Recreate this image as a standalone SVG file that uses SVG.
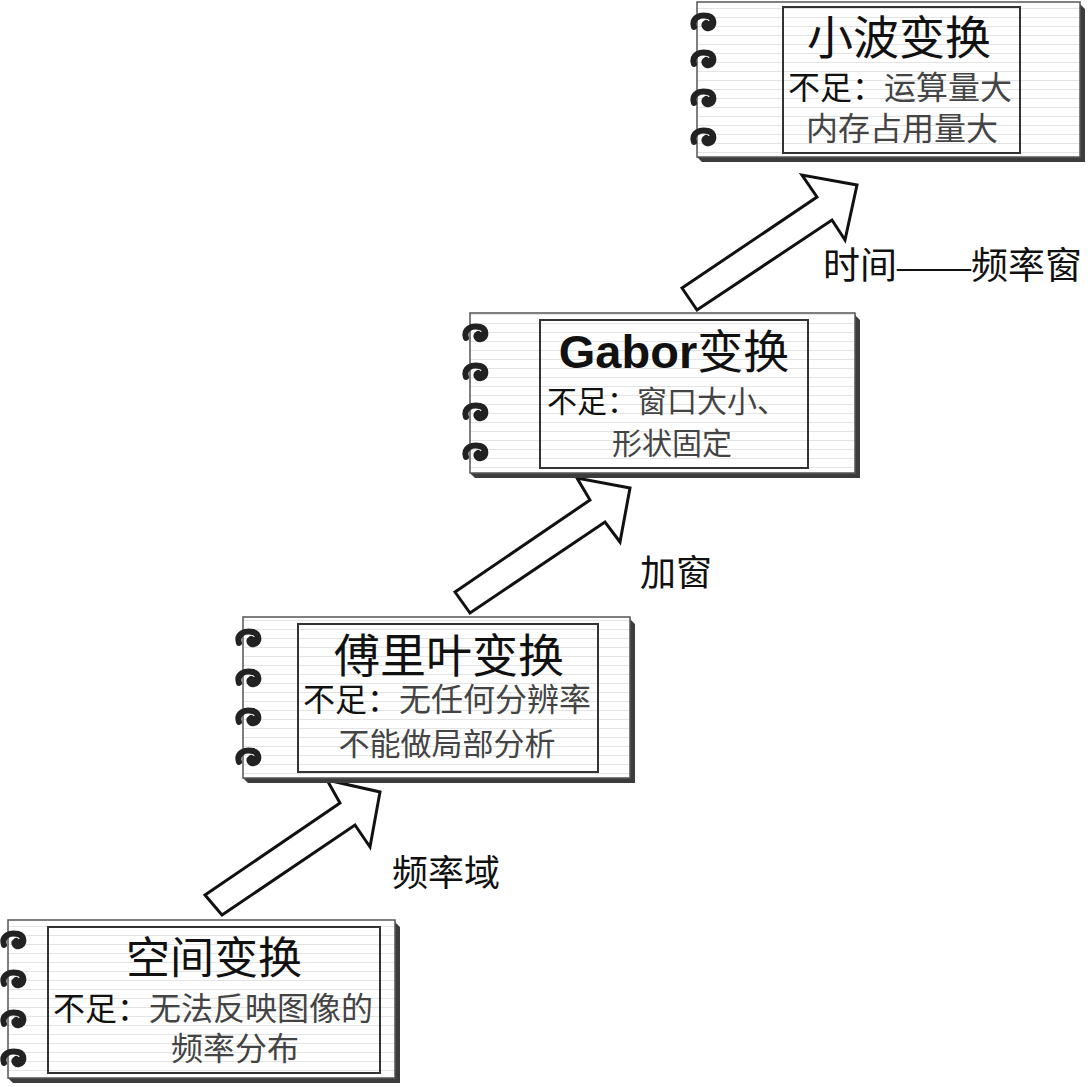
<svg xmlns="http://www.w3.org/2000/svg" width="1090" height="1087" viewBox="0 0 1090 1087">
<style>
.page{fill:url(#ruled);stroke:#555;stroke-width:1.5}
.shadow{fill:#3c3c3c}
.inner{fill:none;stroke:#333;stroke-width:2}
text{font-family:"Liberation Serif","Noto Sans CJK SC",serif;text-anchor:middle}
.title{font-size:44px;fill:#111}
.desc{font-size:32px;fill:#444}
.k{fill:#111}
.lbl{font-size:36px;fill:#111;text-anchor:start}
.gab{font-family:"Liberation Sans",Arial,sans-serif;font-weight:bold}
.arrow{fill:#fff;stroke:#111;stroke-width:3;stroke-linejoin:miter}
.ring{fill:none;stroke:#222;stroke-width:6;stroke-linecap:round}
</style>
<defs>
<pattern id="ruled" width="10" height="9" patternUnits="userSpaceOnUse">
<rect width="10" height="9" fill="#fff"/>
<line x1="0" y1="8.5" x2="10" y2="8.5" stroke="#e4e4e4" stroke-width="1"/>
</pattern>
<g id="ring">
<path class="ring" d="M-9,5 C-12,-4 -3,-8 5,-6 C12,-4 12,5 6,6 C2,7 0,3 3,1"/>
<circle cx="7" cy="1" r="2.5" fill="#222"/>
</g>
</defs>

<g id="connectors">
<polygon class="arrow" points="205,895 340,803 327,780 380,792 370,847 355,825 222,915"/>
<polygon class="arrow" points="455,592 590,500 577,478 630,488 620,542 605,522 470,613"/>
<polygon class="arrow" points="682,288 817,197 802,175 857,185 845,240 832,220 697,310"/>
<text class="lbl" x="392" y="886">频率域</text>
<text class="lbl" x="640" y="586">加窗</text>
<text class="lbl" x="823" y="279" style="font-size:37px">时间——频率窗</text>
</g>

<g id="node-space">
<polygon class="shadow" points="395,922 400,927 400,1083 13,1083 8,1078 395,1078"/>
<rect class="page" x="8" y="920" width="387" height="158"/>
<rect class="inner" x="48" y="927" width="332" height="146"/>
<use href="#ring" x="13" y="940"/>
<use href="#ring" x="13" y="979"/>
<use href="#ring" x="13" y="1019"/>
<use href="#ring" x="13" y="1058"/>
<text class="title" x="214" y="974">空间变换</text>
<text class="desc" x="213" y="1020"><tspan class="k">不足：</tspan>无法反映图像的</text>
<text class="desc" x="235" y="1060">频率分布</text>
</g>

<g id="node-fourier">
<polygon class="shadow" points="630,619 635,624 635,783 248,783 243,778 630,778"/>
<rect class="page" x="243" y="617" width="387" height="161"/>
<rect class="inner" x="298" y="624" width="300" height="148"/>
<use href="#ring" x="248" y="638"/>
<use href="#ring" x="248" y="678"/>
<use href="#ring" x="248" y="717"/>
<use href="#ring" x="248" y="757"/>
<text class="title" x="449" y="672" style="font-size:46px">傅里叶变换</text>
<text class="desc" x="447" y="711"><tspan class="k">不足：</tspan>无任何分辨率</text>
<text class="desc" x="447" y="755" style="font-size:31px">不能做局部分析</text>
</g>

<g id="node-gabor">
<polygon class="shadow" points="855,315 860,320 860,478 475,478 470,473 855,473"/>
<rect class="page" x="470" y="313" width="385" height="160"/>
<rect class="inner" x="540" y="320" width="268" height="148"/>
<use href="#ring" x="475" y="333"/>
<use href="#ring" x="475" y="372"/>
<use href="#ring" x="475" y="412"/>
<use href="#ring" x="475" y="452"/>
<text class="title" x="674" y="368" style="font-size:46px"><tspan class="gab" style="font-size:47px">Gabor</tspan>变换</text>
<text class="desc" x="667" y="412" style="font-size:30px"><tspan class="k">不足：</tspan>窗口大小、</text>
<text class="desc" x="672" y="454" style="font-size:30px">形状固定</text>
</g>

<g id="node-wavelet">
<polygon class="shadow" points="1080,4 1085,9 1085,162 702,162 697,157 1080,157"/>
<rect class="page" x="697" y="2" width="383" height="155"/>
<rect class="inner" x="783" y="7" width="237" height="146"/>
<use href="#ring" x="703" y="22"/>
<use href="#ring" x="703" y="59"/>
<use href="#ring" x="703" y="98"/>
<use href="#ring" x="703" y="137"/>
<text class="title" x="899" y="54" style="font-size:46px">小波变换</text>
<text class="desc" x="900" y="99"><tspan class="k">不足：</tspan>运算量大</text>
<text class="desc" x="902" y="140">内存占用量大</text>
</g>
</svg>
